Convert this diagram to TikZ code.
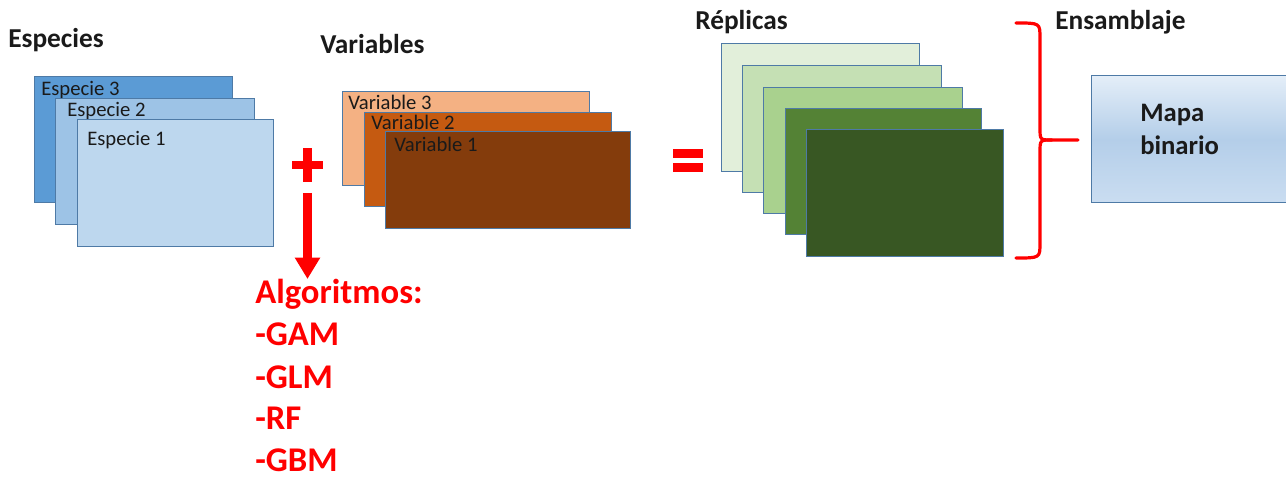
\documentclass[tikz,border=0pt]{standalone}
\usepackage{fontspec}
\setmainfont{Carlito}
\usetikzlibrary{arrows.meta}
\newdimen\pxu \pxu=0.75pt
\definecolor{edge}{HTML}{4E7AA6}
\definecolor{spA}{HTML}{5B9BD5}
\definecolor{spB}{HTML}{9DC3E6}
\definecolor{spC}{HTML}{BDD7EE}
\definecolor{vaA}{HTML}{F4B183}
\definecolor{vaB}{HTML}{C55A11}
\definecolor{vaC}{HTML}{843C0C}
\definecolor{reA}{HTML}{E2EFDA}
\definecolor{reB}{HTML}{C5E0B4}
\definecolor{reC}{HTML}{A9D18E}
\definecolor{reD}{HTML}{548235}
\definecolor{reE}{HTML}{385723}
\definecolor{mapTop}{HTML}{E4EEF8}
\definecolor{mapMid}{HTML}{B4CEE9}
\definecolor{mapBot}{HTML}{CADDF1}
\definecolor{ink}{HTML}{1A1A1A}
\definecolor{alarm}{HTML}{FF0000}
\tikzset{
  sheet/.style={draw=edge, line width=1.1pt, anchor=north west, inner sep=0pt},
  sheetlabel/.style={anchor=base west, inner sep=0pt, text=ink, font=\fontsize{15.5}{18}\selectfont},
  heading/.style={anchor=base west, inner sep=0pt, text=ink, font=\bfseries\fontsize{20.5}{24}\selectfont},
  algo/.style={anchor=base west, inner sep=0pt, text=alarm, font=\bfseries\fontsize{26}{31}\selectfont},
  redbar/.style={fill=alarm, draw=none},
  bigarrow/.style={draw=alarm, line width=6.5pt, -{Triangle[width=18pt,length=16pt]}},
  bracket/.style={draw=alarm, line width=2.4pt, line cap=round, line join=round},
}
\begin{document}
\begin{tikzpicture}[x=0.75pt, y=-0.75pt]
\clip (0,0) rectangle (1286,477);
\fill[white] (0,0) rectangle (1286,477);

% headings
\node[heading] (hsp) at (8,48) {Especies};
\node[heading] (hva) at (320,54) {Variables};
\node[heading] (hre) at (695,30) {Réplicas};
\node[heading] (hen) at (1055,30) {Ensamblaje};

% species sheets
\node[sheet, fill=spA, minimum width=198\pxu, minimum height=126\pxu] (sp3) at (34,76) {};
\node[sheetlabel] (lsp3) at (41,96) {Especie 3};
\node[sheet, fill=spB, minimum width=199\pxu, minimum height=126\pxu] (sp2) at (55,98) {};
\node[sheetlabel] (lsp2) at (67,117) {Especie 2};
\node[sheet, fill=spC, minimum width=196\pxu, minimum height=127\pxu] (sp1) at (77,119) {};
\node[sheetlabel] (lsp1) at (87,146) {Especie 1};

% plus sign and arrow down to the algorithms
\fill[redbar] (292,161) rectangle (323,169.5);
\fill[redbar] (303,148) rectangle (312,182);
\coordinate (plus) at (307.5,165);
\coordinate (arrstart) at (307.5,193);

% variable sheets
\node[sheet, fill=vaA, minimum width=247\pxu, minimum height=94\pxu] (va3) at (342,91) {};
\node[sheetlabel] (lva3) at (348,110) {Variable 3};
\node[sheet, fill=vaB, minimum width=247\pxu, minimum height=94\pxu] (va2) at (364,112) {};
\node[sheetlabel] (lva2) at (371,130) {Variable 2};
\node[sheet, fill=vaC, minimum width=245\pxu, minimum height=97\pxu] (va1) at (385,131) {};
\node[sheetlabel] (lva1) at (394,152) {Variable 1};

% algorithms list
\node[algo] (alg) at (255,304) {Algoritmos:};
\node[algo] (gam) at (255,346) {-GAM};
\node[algo] (glm) at (255,388) {-GLM};
\node[algo] (rf)  at (255,430) {-RF};
\node[algo] (gbm) at (255,471) {-GBM};
\coordinate (arrtip) at (307.5,279);
\draw[bigarrow] (arrstart) -- (arrtip);

% equals sign
\fill[redbar] (673,149) rectangle (703,158);
\fill[redbar] (673,163) rectangle (703,172.5);

% replicate sheets
\node[sheet, fill=reA, minimum width=198\pxu, minimum height=128\pxu] (re1) at (721,43) {};
\node[sheet, fill=reB, minimum width=199\pxu, minimum height=127\pxu] (re2) at (742,65) {};
\node[sheet, fill=reC, minimum width=199\pxu, minimum height=126\pxu] (re3) at (763,87) {};
\node[sheet, fill=reD, minimum width=196\pxu, minimum height=126\pxu] (re4) at (785,108) {};
\node[sheet, fill=reE, minimum width=197\pxu, minimum height=127\pxu] (re5) at (806,129) {};

% brace gathering the replicates
\coordinate (btop) at (1016,23);
\coordinate (bmid) at (1078,140);
\coordinate (bbot) at (1016,258);
\draw[bracket] (btop) .. controls (1040,23) .. (1040,38) -- (1040,128)
  .. controls (1040,140) .. (1052,140) -- (bmid);
\draw[bracket] (bbot) .. controls (1040,258) .. (1040,243) -- (1040,152)
  .. controls (1040,140) .. (1052,140);

% binary map
\node[draw=edge, line width=1.1pt, anchor=north west, inner sep=0pt,
      minimum width=205\pxu, minimum height=127\pxu,
      top color=mapTop, bottom color=mapBot, middle color=mapMid] (map) at (1091,75) {};
\node[anchor=base west, inner sep=0pt, text=ink, font=\bfseries\fontsize{20}{25}\selectfont] (mapa) at (1140,122) {Mapa};
\node[anchor=base west, inner sep=0pt, text=ink, font=\bfseries\fontsize{20}{25}\selectfont] (bin) at (1140,155) {binario};
\end{tikzpicture}
\end{document}
